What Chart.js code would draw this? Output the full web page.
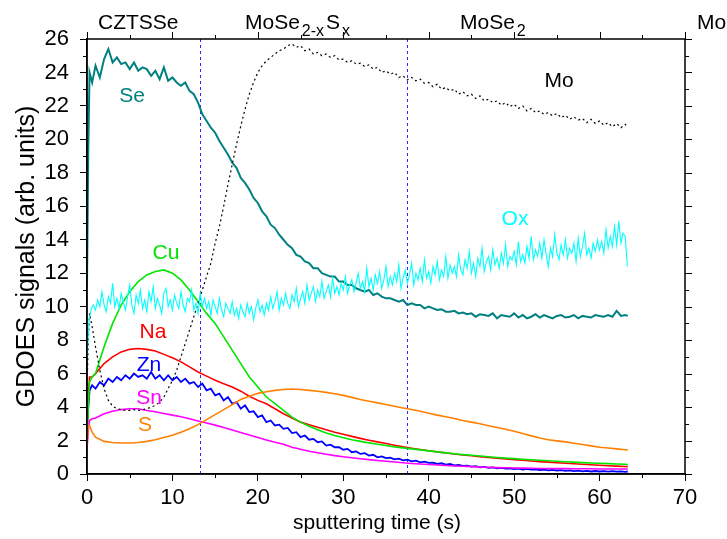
<!DOCTYPE html>
<html>
<head>
<meta charset="utf-8">
<script src="https://cdn.jsdelivr.net/npm/chart.js@4.4.1/dist/chart.umd.min.js"></script>
<style>
html,body{margin:0;padding:0;background:#fff;}
#wrap{width:727px;height:539px;}
</style>
</head>
<body>
<div id="wrap"><canvas id="c" width="727" height="539"></canvas></div>
<script>
// ---- time grids (s) ----
const tFine = [0,0.15,0.3,0.6,1,1.5,2,2.5,3,3.5,4,4.5,5,5.5,6,6.5,7,7.5,8,8.5,9,9.5,10,10.5,11,11.5,12,12.5,13,13.5,14,14.5,15,15.5,16,16.5,17,17.5,18,18.5,19,19.5,20,20.5,21,21.5,22,22.5,23,23.5,24,24.5,25,25.5,26,26.5,27,27.5,28,28.5,29,29.5,30,30.5,31,31.5,32,32.5,33,33.5,34,34.5,35,35.5,36,36.5,37,37.5,38,38.5,39,39.5,40,40.5,41,41.5,42,42.5,43,43.5,44,44.5,45,45.5,46,46.5,47,47.5,48,48.5,49,49.5,50,50.5,51,51.5,52,52.5,53,53.5,54,54.5,55,55.5,56,56.5,57,57.5,58,58.5,59,59.5,60,60.5,61,61.5,62,62.5,63,63.3];
const tCoarse = [0,0.15,0.3,0.6,1,2,3,4,5,6,7,8,9,10,11,12,13,14,15,16,17,18,19,20,21,22,23,24,25,26,27,28,29,30,31,32,33,34,35,36,37,38,39,40,41,42,43,44,45,46,47,48,49,50,51,52,53,54,55,56,57,58,59,60,61,62,63,63.3];
const tOx = [0,0.25,0.5,0.75,1,1.25,1.5,1.75,2,2.25,2.5,2.75,3,3.25,3.5,3.75,4,4.25,4.5,4.75,5,5.25,5.5,5.75,6,6.25,6.5,6.75,7,7.25,7.5,7.75,8,8.25,8.5,8.75,9,9.25,9.5,9.75,10,10.25,10.5,10.75,11,11.25,11.5,11.75,12,12.25,12.5,12.75,13,13.25,13.5,13.75,14,14.25,14.5,14.75,15,15.25,15.5,15.75,16,16.25,16.5,16.75,17,17.25,17.5,17.75,18,18.25,18.5,18.75,19,19.25,19.5,19.75,20,20.25,20.5,20.75,21,21.25,21.5,21.75,22,22.25,22.5,22.75,23,23.25,23.5,23.75,24,24.25,24.5,24.75,25,25.25,25.5,25.75,26,26.25,26.5,26.75,27,27.25,27.5,27.75,28,28.25,28.5,28.75,29,29.25,29.5,29.75,30,30.25,30.5,30.75,31,31.25,31.5,31.75,32,32.25,32.5,32.75,33,33.25,33.5,33.75,34,34.25,34.5,34.75,35,35.25,35.5,35.75,36,36.25,36.5,36.75,37,37.25,37.5,37.75,38,38.25,38.5,38.75,39,39.25,39.5,39.75,40,40.25,40.5,40.75,41,41.25,41.5,41.75,42,42.25,42.5,42.75,43,43.25,43.5,43.75,44,44.25,44.5,44.75,45,45.25,45.5,45.75,46,46.25,46.5,46.75,47,47.25,47.5,47.75,48,48.25,48.5,48.75,49,49.25,49.5,49.75,50,50.25,50.5,50.75,51,51.25,51.5,51.75,52,52.25,52.5,52.75,53,53.25,53.5,53.75,54,54.25,54.5,54.75,55,55.25,55.5,55.75,56,56.25,56.5,56.75,57,57.25,57.5,57.75,58,58.25,58.5,58.75,59,59.25,59.5,59.75,60,60.25,60.5,60.75,61,61.25,61.5,61.75,62,62.25,62.5,62.75,63,63.25];

// ---- series on tFine ----
const se = [11.3,19.5,24.0,23.4,24.4,23.7,24.8,25.4,24.6,24.9,24.5,24.6,24.2,24.6,24.1,24.3,24.2,23.8,24.1,23.6,24.3,23.5,23.7,23.4,23.2,23.4,22.9,22.7,22.2,21.5,21.1,20.7,20.4,19.9,19.5,19.1,18.6,18.3,17.7,17.4,17.0,16.5,16.2,15.7,15.4,14.9,14.7,14.3,14.0,13.7,13.5,13.1,13.0,12.7,12.6,12.3,12.3,12.0,11.9,11.8,11.8,11.5,11.5,11.3,11.3,11.1,11.0,10.9,11.0,10.7,10.8,10.6,10.5,10.5,10.4,10.3,10.4,10.1,10.2,10.1,10.1,9.9,10.0,9.9,9.8,9.85,9.7,9.7,9.75,9.6,9.65,9.55,9.6,9.4,9.55,9.5,9.45,9.6,9.3,9.5,9.45,9.4,9.6,9.35,9.5,9.3,9.4,9.55,9.35,9.5,9.4,9.3,9.45,9.5,9.35,9.4,9.5,9.3,9.45,9.4,9.35,9.5,9.45,9.4,9.5,9.4,9.75,9.45,9.5,9.45];
const mo = [5.0,8.0,9.6,8.8,7.6,6.2,5.1,4.4,4.05,3.9,3.85,3.8,3.8,3.85,3.8,3.85,3.9,4.0,4.1,4.3,4.6,5.1,5.6,6.2,7.0,7.8,8.6,9.4,10.2,11.0,11.8,12.6,13.8,14.8,16.0,17.3,18.5,19.7,20.8,21.8,22.7,23.4,24.0,24.4,24.7,24.9,25.1,25.3,25.4,25.6,25.7,25.5,25.6,25.3,25.4,25.1,25.2,25.0,25.1,24.9,25.0,24.75,24.8,24.6,24.7,24.5,24.55,24.35,24.45,24.2,24.3,24.0,24.1,23.9,24.0,23.7,23.8,23.55,23.7,23.5,23.6,23.35,23.4,23.15,23.3,23.0,23.1,22.9,23.0,22.7,22.85,22.6,22.7,22.45,22.6,22.3,22.4,22.2,22.3,22.05,22.2,21.95,22.1,21.85,22.0,21.7,21.85,21.6,21.7,21.5,21.6,21.4,21.55,21.3,21.45,21.2,21.35,21.15,21.25,21.0,21.2,20.95,21.1,20.85,21.0,20.75,20.95,20.7,20.9,20.7];
const zn = [3.0,4.0,5.0,5.3,5.1,5.5,5.3,5.7,5.5,5.8,5.6,5.9,5.7,6.0,5.8,5.9,5.7,6.1,5.7,5.9,5.6,5.9,5.6,5.8,5.5,5.7,5.4,5.5,5.2,5.4,5.0,5.1,4.7,4.8,4.4,4.6,4.2,4.3,3.9,4.1,3.7,3.75,3.4,3.5,3.1,3.2,2.9,2.95,2.7,2.75,2.45,2.5,2.2,2.3,2.05,2.1,1.9,1.95,1.7,1.75,1.6,1.6,1.45,1.5,1.3,1.35,1.2,1.25,1.1,1.15,1.0,1.05,0.95,0.98,0.88,0.92,0.82,0.86,0.76,0.8,0.7,0.74,0.66,0.68,0.6,0.64,0.56,0.6,0.52,0.55,0.48,0.5,0.44,0.47,0.4,0.43,0.37,0.4,0.34,0.37,0.32,0.34,0.3,0.32,0.27,0.3,0.26,0.28,0.24,0.26,0.22,0.25,0.21,0.23,0.19,0.22,0.17,0.2,0.16,0.19,0.15,0.18,0.15,0.17,0.14,0.17,0.14,0.16,0.13,0.15];

// ---- Ox on tOx ----
const ox = [7.0,9.2,9.9,10.1, 9.8,10.4,10.0,10.9, 10.1,9.7,10.6,10.2, 11.4,10.0,10.5,9.9, 10.8,10.3,9.8,10.6, 11.3,10.1,9.6,10.7, 10.2,11.0,9.9,10.4, 9.7,10.9,10.3,11.2, 9.9,10.5,10.1,9.6, 10.8,11.1,10.0,10.4, 9.8,10.7,10.2,9.9, 10.9,10.1,9.7,10.5, 10.3,11.0,9.8,10.2, 9.6,10.8,10.0,10.5, 9.9,10.3,9.5,10.4, 10.0,9.6,10.5,9.8, 9.4,10.2,9.9,9.6, 10.3,9.5,9.9,9.3, 10.1,9.7,9.4,10.2, 9.6,10.0,9.2,9.9, 10.4,9.7,10.1,9.5, 10.2,9.8,10.6,9.9, 10.3,10.9,9.8,10.5, 10.1,10.8,10.2,9.9, 10.7,10.3,11.1,10.0, 10.5,10.9,10.2,11.3, 10.4,10.8,11.2,10.3, 11.0,10.6,11.5,10.5, 10.9,11.3,10.6,11.7, 10.8,11.2,10.7,11.4, 11.0,11.8,10.8,11.3, 11.6,10.9,11.4,12.0, 11.1,11.5,10.9,12.3, 11.2,11.7,11.0,11.9, 11.4,12.1,11.1,11.6, 12.4,11.2,11.8,11.3, 12.0,11.5,12.5,11.1, 11.7,12.2,11.4,11.9, 12.6,11.3,12.0,11.6, 12.3,11.5,12.8,11.7, 12.1,11.4,12.4,11.9, 12.7,11.6,12.2,11.8, 13.0,11.7,12.5,12.0, 12.4,11.8,13.1,12.2, 11.9,12.8,12.3,13.3, 12.0,12.6,11.8,12.9, 12.4,13.5,12.1,12.7, 13.0,12.2,13.4,12.5, 12.9,12.3,13.2,12.6, 13.7,12.4,13.0,12.8, 13.3,12.5,13.9,12.7, 13.1,12.6,13.6,12.9, 14.2,12.8,13.4,13.0, 13.8,12.9,14.0,13.1, 12.4,13.5,13.0,14.3, 13.2,12.8,13.7,13.1, 14.0,12.9,13.5,13.2, 13.8,12.7,14.1,13.0, 13.6,14.4,13.1,13.5, 12.9,13.8,13.3,14.0, 13.4,13.9,13.2,14.6, 13.5,14.2,13.6,14.8, 13.7,15.1,13.8,14.4, 14.2,12.4];

// ---- series on tCoarse ----
const cu = [2.0,4.0,5.5,5.8,6.0,7.6,9.0,10.1,10.9,11.5,11.9,12.1,12.2,12.0,11.6,11.0,10.3,9.6,9.0,8.2,7.4,6.6,5.8,5.2,4.6,4.2,3.8,3.4,3.1,2.85,2.65,2.45,2.3,2.17,2.05,1.95,1.86,1.78,1.7,1.62,1.56,1.5,1.44,1.38,1.32,1.26,1.21,1.16,1.12,1.08,1.03,0.99,0.95,0.92,0.88,0.85,0.82,0.79,0.76,0.73,0.71,0.68,0.66,0.64,0.62,0.6,0.58,0.57];
const na = [2.3,4.5,5.8,5.8,6.0,6.6,7.0,7.3,7.45,7.5,7.45,7.35,7.15,6.95,6.7,6.4,6.1,5.85,5.6,5.4,5.2,4.95,4.65,4.4,4.2,3.9,3.6,3.35,3.1,2.95,2.8,2.65,2.5,2.38,2.25,2.13,2.02,1.92,1.82,1.72,1.62,1.54,1.46,1.39,1.32,1.26,1.2,1.14,1.09,1.04,0.99,0.95,0.9,0.86,0.82,0.78,0.74,0.71,0.67,0.64,0.61,0.58,0.55,0.52,0.49,0.47,0.45,0.44];
const sn = [1.5,2.6,3.2,3.3,3.35,3.6,3.75,3.85,3.9,3.9,3.8,3.72,3.62,3.52,3.42,3.3,3.17,3.05,2.92,2.78,2.63,2.48,2.33,2.18,2.03,1.9,1.78,1.6,1.48,1.36,1.27,1.18,1.1,1.03,0.97,0.91,0.86,0.81,0.76,0.72,0.67,0.63,0.6,0.57,0.54,0.51,0.48,0.46,0.44,0.42,0.4,0.38,0.37,0.36,0.35,0.34,0.33,0.33,0.32,0.32,0.31,0.31,0.31,0.3,0.3,0.3,0.3,0.3];
const s = [1.7,2.9,2.9,2.5,2.2,1.95,1.88,1.85,1.85,1.88,1.95,2.05,2.18,2.32,2.5,2.7,2.95,3.25,3.55,3.85,4.15,4.45,4.65,4.82,4.92,5.0,5.05,5.08,5.05,5.0,4.95,4.88,4.8,4.7,4.58,4.45,4.35,4.25,4.15,4.05,3.95,3.85,3.75,3.63,3.52,3.42,3.32,3.2,3.1,3.0,2.88,2.78,2.68,2.55,2.42,2.28,2.15,2.05,1.98,1.92,1.84,1.76,1.68,1.6,1.55,1.5,1.45,1.43];

// ---- axis ticks & annotations ----
const xTicks = [0,10,20,30,40,50,60,70];
const yTicks = [0,2,4,6,8,10,12,14,16,18,20,22,24,26];
const layerBounds = [13.2, 37.5];
const xTitle = 'sputtering time (s)';
const yTitle = 'GDOES signals (arb. units)';

function pts(t, v){ return v.map((y,i)=>({x:t[i], y:y})); }

const FONT = "'Liberation Sans', Arial, Helvetica, sans-serif";

const ds = [
  {label:'Ox', data:pts(tOx,ox), borderColor:'#00FFFF', borderWidth:1.1},
  {label:'Mo', data:pts(tFine,mo), borderColor:'#000000', borderWidth:1.2, borderDash:[2,3]},
  {label:'S',  data:pts(tCoarse,s), borderColor:'#FF8000', borderWidth:1.6},
  {label:'Sn', data:pts(tCoarse,sn), borderColor:'#FF00FF', borderWidth:1.6},
  {label:'Cu', data:pts(tCoarse,cu), borderColor:'#00E600', borderWidth:1.6},
  {label:'Na', data:pts(tCoarse,na), borderColor:'#FF0000', borderWidth:1.6},
  {label:'Zn', data:pts(tFine,zn), borderColor:'#0000FF', borderWidth:1.8},
  {label:'Se', data:pts(tFine,se), borderColor:'#008080', borderWidth:2}
].map(d=>Object.assign({showLine:true, pointRadius:0, tension:0, fill:false}, d));

const decor = {
  id:'decor',
  beforeDatasetsDraw(chart){
    const {ctx, chartArea:a, scales:{x}} = chart;
    ctx.save();
    ctx.strokeStyle = '#2828FF';
    ctx.lineWidth = 1;
    ctx.setLineDash([3,3]);
    layerBounds.forEach(v=>{
      const px = Math.round(x.getPixelForValue(v))+0.5;
      ctx.beginPath(); ctx.moveTo(px,a.top); ctx.lineTo(px,a.bottom); ctx.stroke();
    });
    ctx.restore();
  },
  afterDraw(chart){
    const {ctx, chartArea:a, scales:{x,y}} = chart;
    ctx.save();
    ctx.strokeStyle = '#000'; ctx.lineWidth = 1.5; ctx.setLineDash([]);
    ctx.strokeRect(a.left, a.top, a.right-a.left, a.bottom-a.top);
    ctx.lineWidth = 1;
    ctx.beginPath();
    for(let v=0; v<=26; v+=1){
      const py = Math.round(y.getPixelForValue(v))+0.5;
      const len = (v%2===0)?7:4;
      if(v%2!==0){ ctx.moveTo(a.left-len,py); ctx.lineTo(a.left,py); }
      ctx.moveTo(a.right,py); ctx.lineTo(a.right+len,py);
    }
    for(let v=0; v<=70; v+=5){
      const px = Math.round(x.getPixelForValue(v))+0.5;
      const len = (v%10===0)?7:4;
      if(v%10!==0){ ctx.moveTo(px,a.bottom); ctx.lineTo(px,a.bottom+len); }
      ctx.moveTo(px,a.top); ctx.lineTo(px,a.top-len);
    }
    ctx.stroke();

    ctx.fillStyle = '#000';
    // x-axis title
    ctx.font = '21px '+FONT;
    ctx.textAlign = 'center';
    ctx.textBaseline = 'middle';
    ctx.fillText(xTitle, 377, 523);

    ctx.textBaseline = 'alphabetic';
    ctx.textAlign = 'left';
    const big = '21px '+FONT, small = '16px '+FONT;
    function runs(x0, base, parts){
      let cx = x0;
      parts.forEach(p=>{
        ctx.font = p[1] ? small : big;
        ctx.fillText(p[0], cx, base + (p[1]?7:0));
        cx += ctx.measureText(p[0]).width + 2;
      });
    }
    const base = 29;
    runs(98, base, [['CZTSSe',0]]);
    runs(245, base, [['MoSe',0],['2-x',1],['S',0],['x',1]]);
    runs(460, base, [['MoSe',0],['2',1]]);
    runs(697, base, [['Mo',0]]);

    ctx.font = big;
    ctx.textAlign = 'center';
    ctx.textBaseline = 'middle';
    const lab = [['Se','#008080',132,96],['Mo','#000000',559,81],['Ox','#00FFFF',515,219],['Cu','#00E600',166,253],
                 ['Na','#FF0000',153,332],['Zn','#0000FF',149,365],['Sn','#FF00FF',149,398],['S','#FF8000',145,425]];
    lab.forEach(l=>{ ctx.fillStyle=l[1]; ctx.fillText(l[0], l[2], l[3]); });
    ctx.restore();
  }
};

new Chart(document.getElementById('c'), {
  type:'scatter',
  data:{datasets:ds},
  options:{
    responsive:false,
    animation:false,
    events:[],
    layout:{padding:{left:0, top:39, right:42, bottom:0}},
    plugins:{legend:{display:false}, tooltip:{enabled:false}},
    scales:{
      x:{
        type:'linear', min:0, max:70,
        afterBuildTicks(sc){ sc.ticks = xTicks.map(v=>({value:v})); },
        afterFit(sc){ sc.height = 65; },
        ticks:{color:'#000', font:{family:FONT, size:22}, padding:4, maxRotation:0, autoSkip:false},
        grid:{drawOnChartArea:false, drawTicks:true, tickLength:7, tickColor:'#000', tickWidth:1},
        border:{display:true, color:'#000', width:1.5},
        title:{display:false}
      },
      y:{
        type:'linear', min:0, max:26,
        afterBuildTicks(sc){ sc.ticks = yTicks.map(v=>({value:v})); },
        afterFit(sc){ sc.width = 87; },
        ticks:{color:'#000', font:{family:FONT, size:22}, padding:11, autoSkip:false},
        grid:{drawOnChartArea:false, drawTicks:true, tickLength:7, tickColor:'#000', tickWidth:1},
        border:{display:true, color:'#000', width:1.5},
        title:{display:true, text:yTitle, color:'#000', font:{family:FONT, size:25}, padding:{top:12,bottom:0}}
      }
    }
  },
  plugins:[decor]
});
</script>
</body>
</html>
